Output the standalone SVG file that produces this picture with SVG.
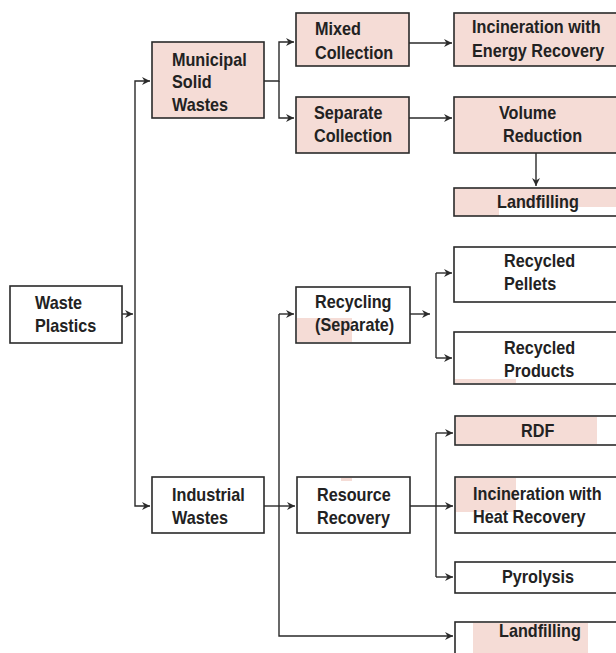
<svg xmlns="http://www.w3.org/2000/svg" width="616" height="653" viewBox="0 0 616 653">
<style>
.box{fill:#fff;stroke:#2a2a2a;stroke-width:1.6}
.pb{fill:#f5dcd6;stroke:#2a2a2a;stroke-width:1.6}
.ol{fill:none;stroke:#2a2a2a;stroke-width:1.6}
.pt{fill:#f5dcd6;stroke:none}
text{font-family:"Liberation Sans",Arial,sans-serif;font-weight:bold;font-size:18px;fill:#222}
.c{fill:none;stroke:#2a2a2a;stroke-width:1.4}
</style>
<defs>
<marker id="ah" markerUnits="userSpaceOnUse" markerWidth="10" markerHeight="10" refX="9" refY="5" orient="auto">
<path d="M1,1 L9,5 L1,9 L3.5,5 z" fill="#2a2a2a"/>
</marker>
</defs>
<rect width="616" height="653" fill="#fff"/>

<g id="connectors">
<path class="c" d="M122,314 H133" marker-end="url(#ah)"/>
<path class="c" d="M135,314 V81 H150" marker-end="url(#ah)"/>
<path class="c" d="M135,314 V506 H150" marker-end="url(#ah)"/>
<path class="c" d="M264,81 H279 V42 H294" marker-end="url(#ah)"/>
<path class="c" d="M279,81 V118 H294" marker-end="url(#ah)"/>
<path class="c" d="M409,43 H452" marker-end="url(#ah)"/>
<path class="c" d="M409,118 H452" marker-end="url(#ah)"/>
<path class="c" d="M536,153 V186" marker-end="url(#ah)"/>
<path class="c" d="M279,314 H294" marker-end="url(#ah)"/>
<path class="c" d="M279,314 V636 H453" marker-end="url(#ah)"/>
<path class="c" d="M264,506 H295" marker-end="url(#ah)"/>
<path class="c" d="M410,314 H430" marker-end="url(#ah)"/>
<path class="c" d="M436,273 V358"/>
<path class="c" d="M436,273 H452" marker-end="url(#ah)"/>
<path class="c" d="M436,358 H452" marker-end="url(#ah)"/>
<path class="c" d="M410,506 H453" marker-end="url(#ah)"/>
<path class="c" d="M436,433 V577"/>
<path class="c" d="M436,433 H453" marker-end="url(#ah)"/>
<path class="c" d="M436,577 H453" marker-end="url(#ah)"/>
</g>

<g id="waste-plastics">
<rect class="box" x="10" y="286" width="112" height="57"/>
<text transform="translate(35,309) scale(0.9,1)">Waste</text>
<text transform="translate(35,332) scale(0.9,1)">Plastics</text>
</g>

<g id="msw">
<rect class="pb" x="152" y="42" width="112" height="76"/>
<text transform="translate(172,66) scale(0.9,1)">Municipal</text>
<text transform="translate(172,88) scale(0.9,1)">Solid</text>
<text transform="translate(172,111) scale(0.9,1)">Wastes</text>
</g>

<g id="mixed">
<rect class="pb" x="296" y="13" width="113" height="53"/>
<text transform="translate(315,35) scale(0.9,1)">Mixed</text>
<text transform="translate(315,59) scale(0.9,1)">Collection</text>
</g>

<g id="separate">
<rect class="pb" x="296" y="97" width="113" height="56"/>
<text transform="translate(314,119) scale(0.9,1)">Separate</text>
<text transform="translate(314,142) scale(0.9,1)">Collection</text>
</g>

<g id="incin-energy">
<rect class="pb" x="454" y="13" width="170" height="53"/>
<text transform="translate(472,33) scale(0.9,1)">Incineration with</text>
<text transform="translate(472,57) scale(0.9,1)">Energy Recovery</text>
</g>

<g id="volume">
<rect class="pb" x="454" y="97" width="170" height="56"/>
<text transform="translate(499,119) scale(0.9,1)">Volume</text>
<text transform="translate(503,142) scale(0.9,1)">Reduction</text>
</g>

<g id="landfill-top">
<rect class="pt" x="454" y="188" width="170" height="19"/>
<rect class="pt" x="454" y="207" width="45" height="9"/>
<rect class="ol" x="454" y="188" width="170" height="28"/>
<text transform="translate(497,208) scale(0.9,1)">Landfilling</text>
</g>

<g id="recycling">
<rect class="box" x="296" y="287" width="114" height="56"/>
<rect class="pt" x="297" y="318" width="55" height="24"/>
<text transform="translate(315,308) scale(0.9,1)">Recycling</text>
<text transform="translate(315,331) scale(0.9,1)">(Separate)</text>
</g>

<g id="pellets">
<rect class="box" x="454" y="247" width="170" height="55"/>
<text transform="translate(504,267) scale(0.9,1)">Recycled</text>
<text transform="translate(504,290) scale(0.9,1)">Pellets</text>
</g>

<g id="products">
<rect class="box" x="454" y="332" width="170" height="52"/>
<rect class="pt" x="455" y="379" width="61" height="4"/>
<text transform="translate(504,354) scale(0.9,1)">Recycled</text>
<text transform="translate(504,377) scale(0.9,1)">Products</text>
</g>

<g id="industrial">
<rect class="box" x="152" y="477" width="112" height="56"/>
<text transform="translate(172,501) scale(0.9,1)">Industrial</text>
<text transform="translate(172,524) scale(0.9,1)">Wastes</text>
</g>

<g id="resource">
<rect class="box" x="297" y="477" width="113" height="56"/>
<rect class="pt" x="341" y="478" width="11" height="3"/>
<text transform="translate(317,501) scale(0.9,1)">Resource</text>
<text transform="translate(317,524) scale(0.9,1)">Recovery</text>
</g>

<g id="rdf">
<rect class="box" x="455" y="416" width="170" height="29"/>
<rect class="pt" x="456" y="417" width="141" height="27"/>
<text transform="translate(521,437) scale(0.9,1)">RDF</text>
</g>

<g id="incin-heat">
<rect class="box" x="455" y="477" width="170" height="56"/>
<rect class="pt" x="456" y="478" width="60" height="34"/>
<text transform="translate(473,500) scale(0.9,1)">Incineration with</text>
<text transform="translate(473,523) scale(0.9,1)">Heat Recovery</text>
</g>

<g id="pyrolysis">
<rect class="box" x="455" y="562" width="170" height="31"/>
<text transform="translate(502,583) scale(0.9,1)">Pyrolysis</text>
</g>

<g id="landfill-bottom">
<rect class="box" x="455" y="622" width="170" height="40"/>
<rect class="pt" x="473" y="623" width="115" height="30"/>
<text transform="translate(499,637) scale(0.9,1)">Landfilling</text>
</g>
</svg>
